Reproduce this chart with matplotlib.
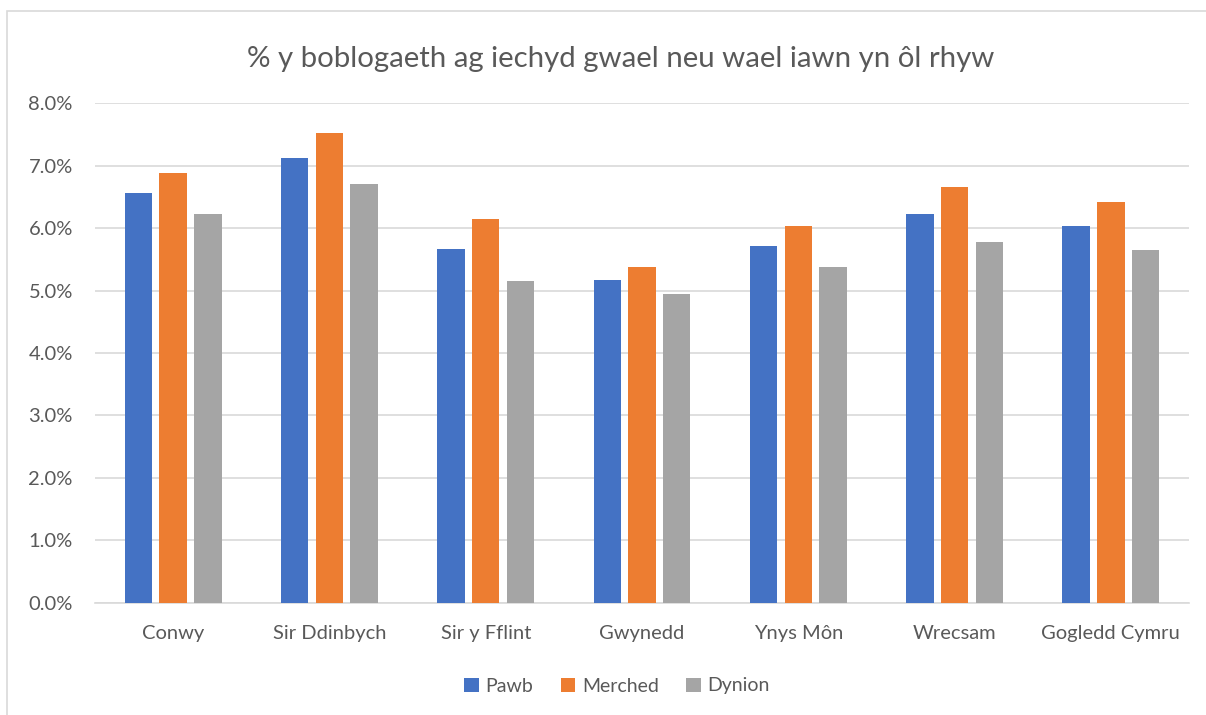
import matplotlib.pyplot as plt
import numpy as np
from matplotlib.ticker import FuncFormatter
from matplotlib.patches import Rectangle

plt.rcParams['font.family'] = ['Lato', 'DejaVu Sans']

# data (%)
categories = ["Conwy", "Sir Ddinbych", "Sir y Fflint", "Gwynedd", "Ynys Môn", "Wrecsam", "Gogledd Cymru"]
pawb = [6.56, 7.12, 5.66, 5.17, 5.71, 6.22, 6.04]
merched = [6.88, 7.52, 6.15, 5.37, 6.04, 6.66, 6.42]
dynion = [6.22, 6.70, 5.15, 4.95, 5.37, 5.77, 5.65]

series = [("Pawb", pawb, "#4472C4"), ("Merched", merched, "#ED7D31"), ("Dynion", dynion, "#A5A5A5")]
text_col = "#595959"

fig = plt.figure(figsize=(12.06, 7.15), dpi=100)
ax = fig.add_axes([95 / 1206, 1 - 602.5 / 715, (1189 - 95) / 1206, (602.5 - 103.3) / 715])

x = np.arange(len(categories))
w = 0.175
step = 0.222
for i, (name, vals, col) in enumerate(series):
    ax.bar(x + (i - 1) * step, vals, width=w, color=col, label=name, zorder=3)

ax.set_xlim(-0.5, len(categories) - 0.5)
ax.set_ylim(0, 8)
ax.set_yticks(np.arange(0, 9, 1))
ax.yaxis.set_major_formatter(FuncFormatter(lambda v, p: f"{v:.1f}%"))
ax.set_xticks(x)
ax.set_xticklabels(categories)
ax.grid(axis='y', color="#D9D9D9", linewidth=1.2, zorder=0)
for s in ['top', 'right', 'left']:
    ax.spines[s].set_visible(False)
ax.spines['bottom'].set_color("#D9D9D9")
ax.spines['bottom'].set_linewidth(1.2)
ax.tick_params(axis='y', length=0, labelsize=14.5, colors=text_col, pad=16)
ax.tick_params(axis='x', length=0, labelsize=14.5, colors=text_col, pad=16)

fig.text(621 / 1206, 1 - 59 / 715, "% y boblogaeth ag iechyd gwael neu wael iawn yn ôl rhyw",
         ha='center', va='center', fontsize=21.2, color=text_col)

fig.legend(loc='center', bbox_to_anchor=(617 / 1206, 1 - 686 / 715), ncol=3, frameon=False,
           fontsize=14, labelcolor=text_col, handlelength=0.75, handleheight=0.75,
           handletextpad=0.35, columnspacing=1.4)

# outer chart border
fig.patches.append(Rectangle((7 / 1206, -0.01), 1.1, 1 - 11 / 715 + 0.01, transform=fig.transFigure,
                             fill=False, edgecolor="#D9D9D9", linewidth=1.2))

plt.savefig("out.png", dpi=100)
